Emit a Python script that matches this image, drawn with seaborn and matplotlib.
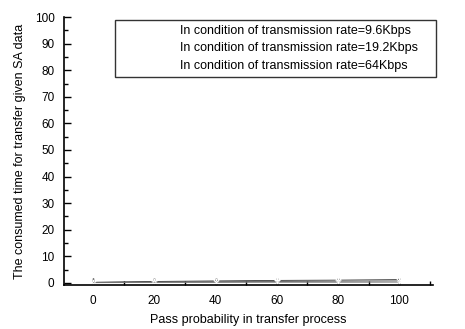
import numpy as np
import pandas as pd
import matplotlib
matplotlib.use("Agg")
import matplotlib.pyplot as plt
from matplotlib.ticker import MultipleLocator
import seaborn as sns

pass_prob = [0, 20, 40, 60, 80, 100]
time_9_6k = [0.2, 0.5, 0.7, 0.9, 1.0, 1.2]
time_19_2k = [0.1, 0.3, 0.4, 0.5, 0.6, 0.7]
time_64k = [0.05, 0.1, 0.15, 0.2, 0.2, 0.25]
series_names = [
    "In condition of transmission rate=9.6Kbps",
    "In condition of transmission rate=19.2Kbps",
    "In condition of transmission rate=64Kbps",
]

df = pd.DataFrame({
    "x": pass_prob * 3,
    "y": time_9_6k + time_19_2k + time_64k,
    "series": [series_names[0]] * 6 + [series_names[1]] * 6 + [series_names[2]] * 6,
})

sns.set_style("ticks")
plt.rcParams["font.family"] = ["Liberation Sans", "DejaVu Sans"]
plt.rcParams["text.color"] = "black"
plt.rcParams["axes.labelcolor"] = "black"
plt.rcParams["xtick.color"] = "black"
plt.rcParams["ytick.color"] = "black"

fig = plt.figure(figsize=(4.65, 3.29), dpi=100)
ax = fig.add_axes([0.138, 0.134, 0.793, 0.814])

sns.lineplot(data=df, x="x", y="y", hue="series", style="series",
             palette=["#333333", "#555555", "#777777"], markers=["+", "x", "1"],
             dashes=False, linewidth=0.6, markersize=4, ax=ax)

ax.set_xlim(-9.5, 111)
ax.set_ylim(-0.8, 100)
ax.xaxis.set_major_locator(MultipleLocator(20))
ax.xaxis.set_minor_locator(MultipleLocator(10))
ax.yaxis.set_major_locator(MultipleLocator(10))
ax.yaxis.set_minor_locator(MultipleLocator(5))
ax.tick_params(which="major", direction="in", length=5, width=1, labelsize=8.5, pad=7)
ax.tick_params(which="minor", direction="in", length=3, width=1)
sns.despine(ax=ax)
for s in ["left", "bottom"]:
    ax.spines[s].set_color("black")
    ax.spines[s].set_linewidth(1.2)

ax.set_xlabel("Pass probability in transfer process", fontsize=9, labelpad=5)
ax.set_ylabel("The consumed time for transfer given SA data", fontsize=9, labelpad=6)

leg = ax.legend(loc="upper left", bbox_to_anchor=(0.138, 0.775, 0.87, 0.215),
                mode="expand", fontsize=9, frameon=True, fancybox=False,
                handlelength=4.0, handletextpad=0.8, borderpad=0.4,
                labelspacing=0.45, borderaxespad=0)
leg.get_frame().set_edgecolor("black")
leg.get_frame().set_linewidth(1.0)
for h in leg.legend_handles:
    h.set_alpha(0)

fig.savefig("out.png", dpi=100, facecolor="white")
